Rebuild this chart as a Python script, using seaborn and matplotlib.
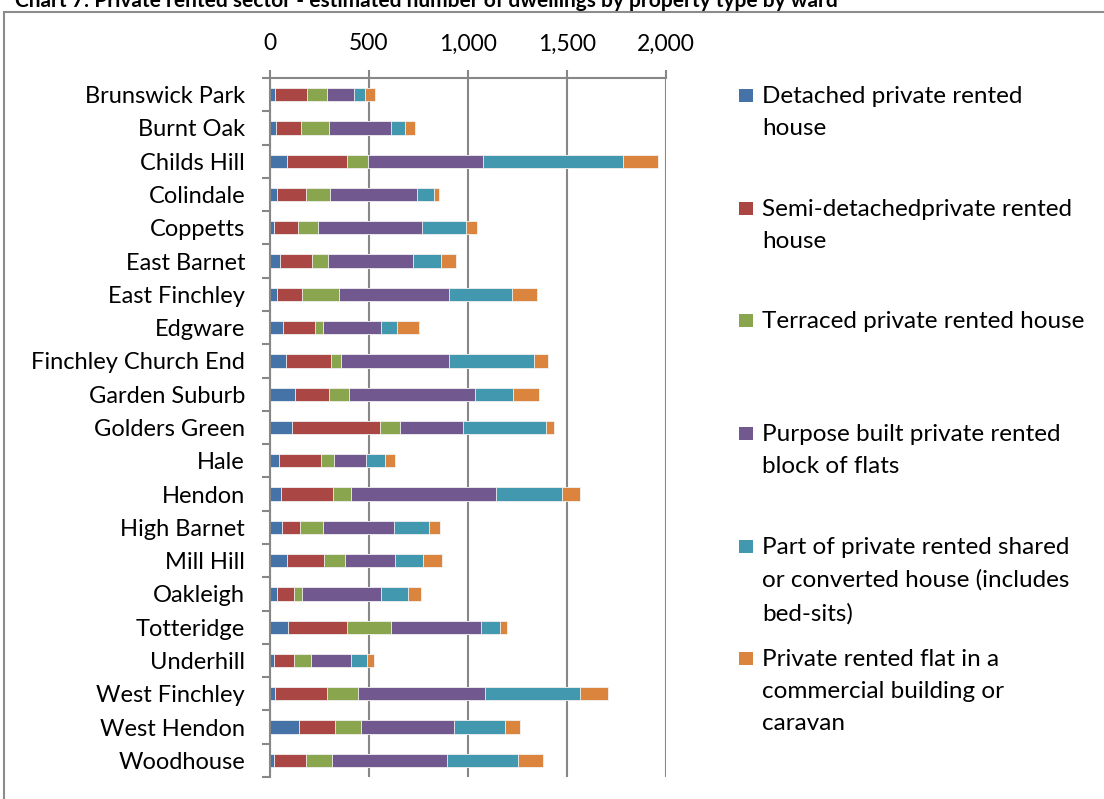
import numpy as np
import pandas as pd
import matplotlib
matplotlib.use("Agg")
import matplotlib.pyplot as plt
import seaborn as sns
from matplotlib.patches import Rectangle
from matplotlib.ticker import FixedLocator, FuncFormatter

# Private rented dwellings by property type, per ward
wards = [
    "Brunswick Park", "Burnt Oak", "Childs Hill", "Colindale", "Coppetts",
    "East Barnet", "East Finchley", "Edgware", "Finchley Church End",
    "Garden Suburb", "Golders Green", "Hale", "Hendon", "High Barnet",
    "Mill Hill", "Oakleigh", "Totteridge", "Underhill", "West Finchley",
    "West Hendon", "Woodhouse",
]
detached = [27, 32, 86, 35, 20, 51, 35, 64, 81, 126, 110, 47, 57, 59, 88, 35, 91, 20, 27, 147, 20]
semi_detached = [158, 125, 302, 147, 120, 161, 129, 164, 228, 172, 445, 211, 263, 93, 183, 86, 298, 101, 263, 182, 162]
terraced = [102, 143, 106, 120, 103, 83, 187, 38, 52, 100, 104, 64, 90, 114, 110, 39, 220, 88, 155, 130, 132]
purpose_built = [136, 312, 582, 440, 526, 428, 554, 295, 544, 639, 314, 164, 733, 361, 251, 401, 458, 201, 641, 472, 581]
shared_converted = [56, 71, 708, 86, 222, 140, 319, 81, 430, 189, 421, 96, 332, 177, 142, 135, 96, 81, 482, 258, 359]
commercial = [52, 50, 177, 27, 54, 78, 125, 110, 68, 131, 41, 47, 93, 56, 94, 68, 36, 35, 137, 72, 123]

series_labels = [
    "Detached private rented\nhouse",
    "Semi-detachedprivate rented\nhouse",
    "Terraced private rented house",
    "Purpose built private rented\nblock of flats",
    "Part of private rented shared\nor converted house (includes\nbed-sits)",
    "Private rented flat in a\ncommercial building or\ncaravan",
]
series_values = [detached, semi_detached, terraced, purpose_built, shared_converted, commercial]
colors = ["#4572A7", "#AA4643", "#89A54E", "#71588F", "#4198AF", "#DB843D"]
x_ticks = [0, 500, 1000, 1500, 2000]

sns.set_theme(style="white")
plt.rcParams["font.family"] = ["Lato", "DejaVu Sans"]

W, H = 1104, 799
fig = plt.figure(figsize=(W / 100, H / 100), dpi=100)
fig.patch.set_facecolor("white")

# plot area in pixel coordinates
left_px, right_px, top_px, bot_px = 270, 666, 78, 777
ax = fig.add_axes([left_px / W, 1 - bot_px / H, (right_px - left_px) / W, (bot_px - top_px) / H])

df = pd.DataFrame({"ward": wards})
cum = np.zeros(len(wards))
cums = []
for vals in series_values:
    cum = cum + np.array(vals)
    cums.append(cum.copy())

# draw cumulative totals from the outermost series inward to form the stack
for k in range(len(series_values) - 1, -1, -1):
    df["total"] = cums[k]
    sns.barplot(data=df, x="total", y="ward", orient="h", color=colors[k],
                width=0.4, saturation=1, ax=ax, edgecolor="#f2f2f2", linewidth=0.6,
                order=wards)

grid_col = "#878787"
ax.set_xlim(0, 2000)
ax.set_ylim(len(wards) - 0.5, -0.5)
ax.xaxis.tick_top()
ax.xaxis.set_label_position("top")
ax.xaxis.set_major_locator(FixedLocator(x_ticks))
ax.xaxis.set_major_formatter(FuncFormatter(lambda v, p: f"{int(v):,}"))
ax.set_xlabel("")
ax.set_ylabel("")
ax.grid(axis="x", color=grid_col, linewidth=1.5)
ax.grid(axis="y", visible=False)
ax.set_axisbelow(True)

for side in ["right", "bottom"]:
    ax.spines[side].set_visible(False)
for side in ["left", "top"]:
    ax.spines[side].set_color(grid_col)
    ax.spines[side].set_linewidth(1.5)

ax.tick_params(axis="x", which="major", direction="out", length=6, width=1.5,
               color=grid_col, labelsize=16.5, pad=11, labelcolor="black")
ax.yaxis.set_minor_locator(FixedLocator(np.arange(-0.5, len(wards), 1.0)))
ax.tick_params(axis="y", which="major", length=0, labelsize=17, pad=18, labelcolor="black")
ax.tick_params(axis="y", which="minor", left=True, direction="out", length=6, width=1.5, color=grid_col)

# outer chart frame
fig.patches.append(Rectangle((4 / W, -0.05), 1.2, 1 - 12 / H + 0.05, transform=fig.transFigure,
                             fill=False, edgecolor="#8c8c8c", linewidth=1.5))

# title (sits above the frame)
fig.text(15 / W, 1 - 1 / H, "Chart 7: Private rented sector - estimated number of dwellings by property type by ward",
         ha="left", va="center", fontsize=15, fontweight="bold", color="black")

# legend
first_line_y = [95, 208, 320, 433, 546, 658]
for lab, col, yc in zip(series_labels, colors, first_line_y):
    fig.patches.append(Rectangle((739 / W, 1 - (yc + 6.5) / H), 14 / W, 13 / H,
                                 transform=fig.transFigure, facecolor=col, edgecolor="none"))
    fig.text(762 / W, 1 - (yc - 9) / H, lab, ha="left", va="top", fontsize=17.5,
             linespacing=1.66, color="black")

fig.savefig("out.png", dpi=100, facecolor="white")
